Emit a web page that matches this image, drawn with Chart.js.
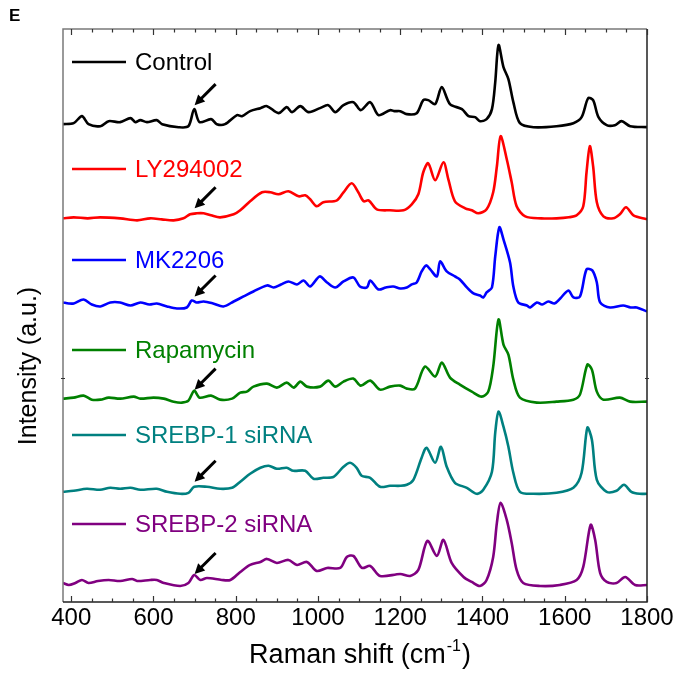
<!DOCTYPE html>
<html lang="en">
<head>
    <meta charset="UTF-8">
    <title>Raman spectra</title>
    <script src="https://cdn.jsdelivr.net/npm/chart.js"></script>
    <style>
        html, body { margin: 0; padding: 0; background: #fff; }
        #box { width: 683px; height: 675px; }
    </style>
</head>
<body>
<div id="box"><canvas id="raman"></canvas></div>

<script>
    // Raman shift (cm-1) vs intensity above each trace's own baseline
    const control = [[380,3],[406,4],[426,11],[442,3],[471,1],[491,6],[519,5],[544,9],[556,5],[568,7],[584,5],[608,7],[621,3],[661,0],[685,1],[699,18],[712,5],[740,8],[754,3],[774,3],[803,12],[815,11],[835,16],[860,19],[876,21],[904,14],[924,20],[937,15],[957,21],[977,15],[1005,19],[1025,22],[1042,15],[1062,22],[1086,25],[1104,17],[1127,25],[1147,12],[1175,17],[1186,16],[1200,16],[1216,13],[1240,14],[1256,27],[1268,27],[1285,23],[1301,40],[1321,23],[1350,18],[1366,11],[1382,10],[1394,6],[1410,8],[1423,18],[1431,45],[1439,82],[1451,60],[1463,48],[1475,25],[1491,4],[1524,0],[1580,1],[1621,4],[1641,10],[1657,29],[1669,27],[1682,10],[1702,2],[1722,2],[1738,6],[1759,1],[1800,0]];
    const ly294002 = [[380,0],[406,1],[440,0],[470,1],[519,0],[560,-2],[592,0],[620,-1],[649,-2],[673,0],[689,4],[705,5],[722,5],[740,3],[762,1],[795,4],[811,8],[835,17],[864,26],[884,26],[904,24],[928,27],[953,22],[969,23],[981,19],[997,12],[1013,16],[1046,18],[1062,26],[1082,35],[1098,26],[1111,17],[1123,18],[1143,9],[1175,8],[1208,8],[1228,14],[1244,24],[1256,46],[1268,55],[1285,38],[1305,56],[1317,39],[1333,17],[1358,10],[1374,8],[1390,5],[1410,9],[1426,26],[1435,52],[1444,82],[1459,59],[1471,36],[1483,12],[1504,2],[1543,0],[1580,0],[1610,1],[1629,3],[1645,12],[1653,46],[1661,72],[1669,52],[1678,16],[1694,2],[1718,0],[1734,4],[1749,11],[1767,3],[1800,-1]];
    const mk2206 = [[380,2],[394,1],[406,1],[430,5],[450,0],[471,-2],[495,2],[519,2],[544,-1],[568,2],[590,0],[608,1],[633,-2],[657,-4],[681,-3],[693,4],[705,2],[722,3],[745,1],[770,-2],[795,3],[819,8],[843,13],[876,19],[892,17],[910,20],[928,23],[949,20],[965,24],[981,18],[1004,28],[1022,22],[1042,17],[1062,23],[1086,27],[1102,18],[1119,17],[1127,24],[1147,15],[1165,17],[1183,18],[1200,16],[1216,17],[1228,20],[1240,22],[1252,33],[1263,39],[1273,35],[1289,28],[1297,43],[1313,33],[1333,28],[1345,25],[1362,17],[1378,11],[1394,9],[1402,7],[1410,12],[1423,17],[1431,48],[1441,77],[1451,65],[1467,42],[1475,18],[1487,2],[1508,-1],[1516,-3],[1532,2],[1545,0],[1560,3],[1575,1],[1589,6],[1609,14],[1621,7],[1637,8],[1653,35],[1667,34],[1678,22],[1686,2],[1710,-3],[1742,-1],[1760,-3],[1775,-3],[1800,-7]];
    const rapamycin = [[380,1],[406,2],[430,4],[450,0],[471,0],[491,2],[519,1],[552,3],[568,1],[600,2],[625,1],[649,-2],[669,-3],[685,-1],[699,9],[712,2],[740,4],[762,0],[791,1],[811,7],[827,8],[843,13],[876,16],[900,12],[924,17],[941,12],[957,18],[973,13],[1005,13],[1025,19],[1042,13],[1062,18],[1086,21],[1104,14],[1127,19],[1151,10],[1175,13],[1200,14],[1216,11],[1236,11],[1260,33],[1285,23],[1301,37],[1321,22],[1345,15],[1374,8],[1398,3],[1414,8],[1426,33],[1439,80],[1451,55],[1463,45],[1475,20],[1491,2],[1532,-3],[1580,-2],[1621,0],[1637,5],[1655,35],[1666,30],[1678,8],[1694,0],[1734,2],[1759,-2],[1800,-2]];
    const srebp1 = [[380,1],[406,2],[438,4],[470,3],[495,5],[519,4],[544,5],[568,3],[608,4],[633,1],[665,-1],[685,0],[699,6],[730,6],[762,4],[791,5],[811,11],[835,19],[860,25],[880,27],[900,24],[924,25],[940,22],[969,22],[989,14],[1013,15],[1038,16],[1062,26],[1078,30],[1094,25],[1106,17],[1127,15],[1151,6],[1175,7],[1200,7],[1216,8],[1232,13],[1252,35],[1264,45],[1285,30],[1299,46],[1313,26],[1333,10],[1362,5],[1386,-1],[1402,3],[1423,21],[1431,60],[1439,81],[1451,66],[1463,46],[1475,20],[1491,1],[1524,-1],[1580,0],[1621,5],[1641,20],[1655,65],[1666,53],[1678,13],[1702,1],[1726,2],[1744,8],[1762,1],[1782,-1],[1800,-1]];
    const srebp2 = [[380,0],[394,-2],[410,0],[426,3],[442,0],[465,2],[491,3],[519,2],[548,4],[560,2],[592,3],[608,3],[625,0],[665,-3],[685,0],[699,8],[714,3],[730,5],[766,3],[787,3],[811,11],[835,18],[860,21],[876,24],[900,20],[928,23],[949,18],[973,21],[997,12],[1022,15],[1054,15],[1070,26],[1086,27],[1107,15],[1127,17],[1151,7],[1200,9],[1224,7],[1244,13],[1266,42],[1289,27],[1305,43],[1325,20],[1354,6],[1374,1],[1394,-3],[1410,3],[1426,26],[1435,60],[1444,80],[1459,63],[1471,40],[1483,13],[1499,0],[1540,-3],[1588,-2],[1629,3],[1645,16],[1663,58],[1674,43],[1686,10],[1702,1],[1726,0],[1747,6],[1771,-2],[1800,-2]];

    const names = ['Control', 'LY294002', 'MK2206', 'Rapamycin', 'SREBP-1 siRNA', 'SREBP-2 siRNA'];
    const spectra = [control, ly294002, mk2206, rapamycin, srebp1, srebp2];
    const offsets = [474, 383, 297, 202, 109, 19];   // vertical stacking
    const arrowTips = [22, 10, 8, 10, 11, 9];        // arrow tip height above baseline at 700 cm-1
    const arrowAt = 700;
    const xTicks = [400, 600, 800, 1000, 1200, 1400, 1600, 1800];

    const colors = ['#000000', '#ff0000', '#0000ff', '#008000', '#008080', '#800080'];
    const legendY = [62, 169, 260, 350, 435, 524];
    const FONT = '"Liberation Sans", Arial, sans-serif';

    const datasets = spectra.map((s, i) => ({
        label: names[i],
        data: s.map(p => ({ x: p[0], y: p[1] + offsets[i] })),
        borderColor: colors[i],
        borderWidth: 2.6,
        pointRadius: 0,
        fill: false,
        tension: 0.3
    }));

    function drawArrow(ctx, x, y) {
        const dx = 21, dy = -21;
        const len = Math.hypot(dx, dy);
        const ux = dx / len, uy = dy / len;
        const head = 10, half = 5;
        ctx.save();
        ctx.strokeStyle = '#000';
        ctx.fillStyle = '#000';
        ctx.lineWidth = 3;
        ctx.beginPath();
        ctx.moveTo(x + ux * (head - 2), y + uy * (head - 2));
        ctx.lineTo(x + dx, y + dy);
        ctx.stroke();
        ctx.beginPath();
        ctx.moveTo(x, y);
        ctx.lineTo(x + ux * head - uy * half, y + uy * head + ux * half);
        ctx.lineTo(x + ux * head + uy * half, y + uy * head - ux * half);
        ctx.closePath();
        ctx.fill();
        ctx.restore();
    }

    const decor = {
        id: 'decor',
        afterDraw(chart) {
            const ctx = chart.ctx;
            const a = chart.chartArea;
            const xs = chart.scales.x, ys = chart.scales.y;

            ctx.save();
            // frame
            ctx.lineWidth = 1.5;
            ctx.strokeStyle = '#7a7a7a';
            ctx.beginPath();
            ctx.moveTo(a.left, a.bottom); ctx.lineTo(a.left, a.top); ctx.lineTo(a.right, a.top);
            ctx.stroke();
            ctx.strokeStyle = '#222';
            ctx.beginPath();
            ctx.moveTo(a.right, a.top); ctx.lineTo(a.right, a.bottom); ctx.lineTo(a.left, a.bottom);
            ctx.stroke();

            // inward ticks, top and bottom
            ctx.lineWidth = 1.2;
            ctx.strokeStyle = '#333';
            for (let v = 400; v <= 1800; v += 50) {
                const px = Math.round(xs.getPixelForValue(v)) + 0.5;
                const len = (v % 200 === 0) ? 6 : 3.5;
                ctx.beginPath();
                ctx.moveTo(px, a.bottom); ctx.lineTo(px, a.bottom - len);
                ctx.moveTo(px, a.top); ctx.lineTo(px, a.top + len);
                ctx.stroke();
            }
            const ty = Math.round(ys.getPixelForValue(224)) + 0.5;
            ctx.beginPath();
            ctx.moveTo(a.left - 2, ty); ctx.lineTo(a.left + 2, ty);
            ctx.moveTo(a.right - 2, ty); ctx.lineTo(a.right + 2, ty);
            ctx.stroke();

            // tick labels
            ctx.fillStyle = '#000';
            ctx.font = '24px ' + FONT;
            ctx.textAlign = 'center';
            ctx.textBaseline = 'alphabetic';
            xTicks.forEach(v => ctx.fillText(String(v), xs.getPixelForValue(v), 625));

            // x title with superscript
            const main = 'Raman shift (cm', sup = '-1', end = ')';
            ctx.font = '27px ' + FONT;
            const w1 = ctx.measureText(main).width, w3 = ctx.measureText(end).width;
            ctx.font = '16px ' + FONT;
            const w2 = ctx.measureText(sup).width;
            let x0 = (a.left + a.right) / 2 + 4 - (w1 + w2 + w3) / 2;
            ctx.textAlign = 'left';
            ctx.font = '27px ' + FONT;
            ctx.fillText(main, x0, 663);
            ctx.font = '16px ' + FONT;
            ctx.fillText(sup, x0 + w1 + 1, 651);
            ctx.font = '27px ' + FONT;
            ctx.fillText(end, x0 + w1 + w2 + 2, 663);

            // y title
            ctx.save();
            ctx.translate(36, 366);
            ctx.rotate(-Math.PI / 2);
            ctx.textAlign = 'center';
            ctx.font = '25px ' + FONT;
            ctx.fillText('Intensity (a.u.)', 0, 0);
            ctx.restore();

            // panel letter
            ctx.font = 'bold 17px ' + FONT;
            ctx.textAlign = 'left';
            ctx.fillText('E', 9, 21);

            // per-trace labels
            ctx.textBaseline = 'middle';
            ctx.font = '24px ' + FONT;
            names.forEach((n, i) => {
                ctx.strokeStyle = colors[i];
                ctx.fillStyle = colors[i];
                ctx.lineWidth = 2.6;
                ctx.beginPath();
                ctx.moveTo(72, legendY[i]); ctx.lineTo(126, legendY[i]);
                ctx.stroke();
                ctx.fillText(n, 135, legendY[i] + 1);
            });

            // arrows at the 700 cm-1 band
            offsets.forEach((o, i) => {
                drawArrow(ctx, xs.getPixelForValue(arrowAt), ys.getPixelForValue(o + arrowTips[i]));
            });
            ctx.restore();
        }
    };

    new Chart(document.getElementById('raman'), {
        type: 'line',
        data: { datasets: datasets },
        options: {
            responsive: true,
            maintainAspectRatio: false,
            animation: false,
            layout: { padding: { left: 63, right: 36, top: 29, bottom: 73 } },
            plugins: { legend: { display: false }, tooltip: { enabled: false } },
            scales: {
                x: { type: 'linear', min: 380, max: 1800, display: false },
                y: { type: 'linear', min: 0, max: 572, display: false }
            }
        },
        plugins: [decor]
    });
</script>
</body>
</html>
